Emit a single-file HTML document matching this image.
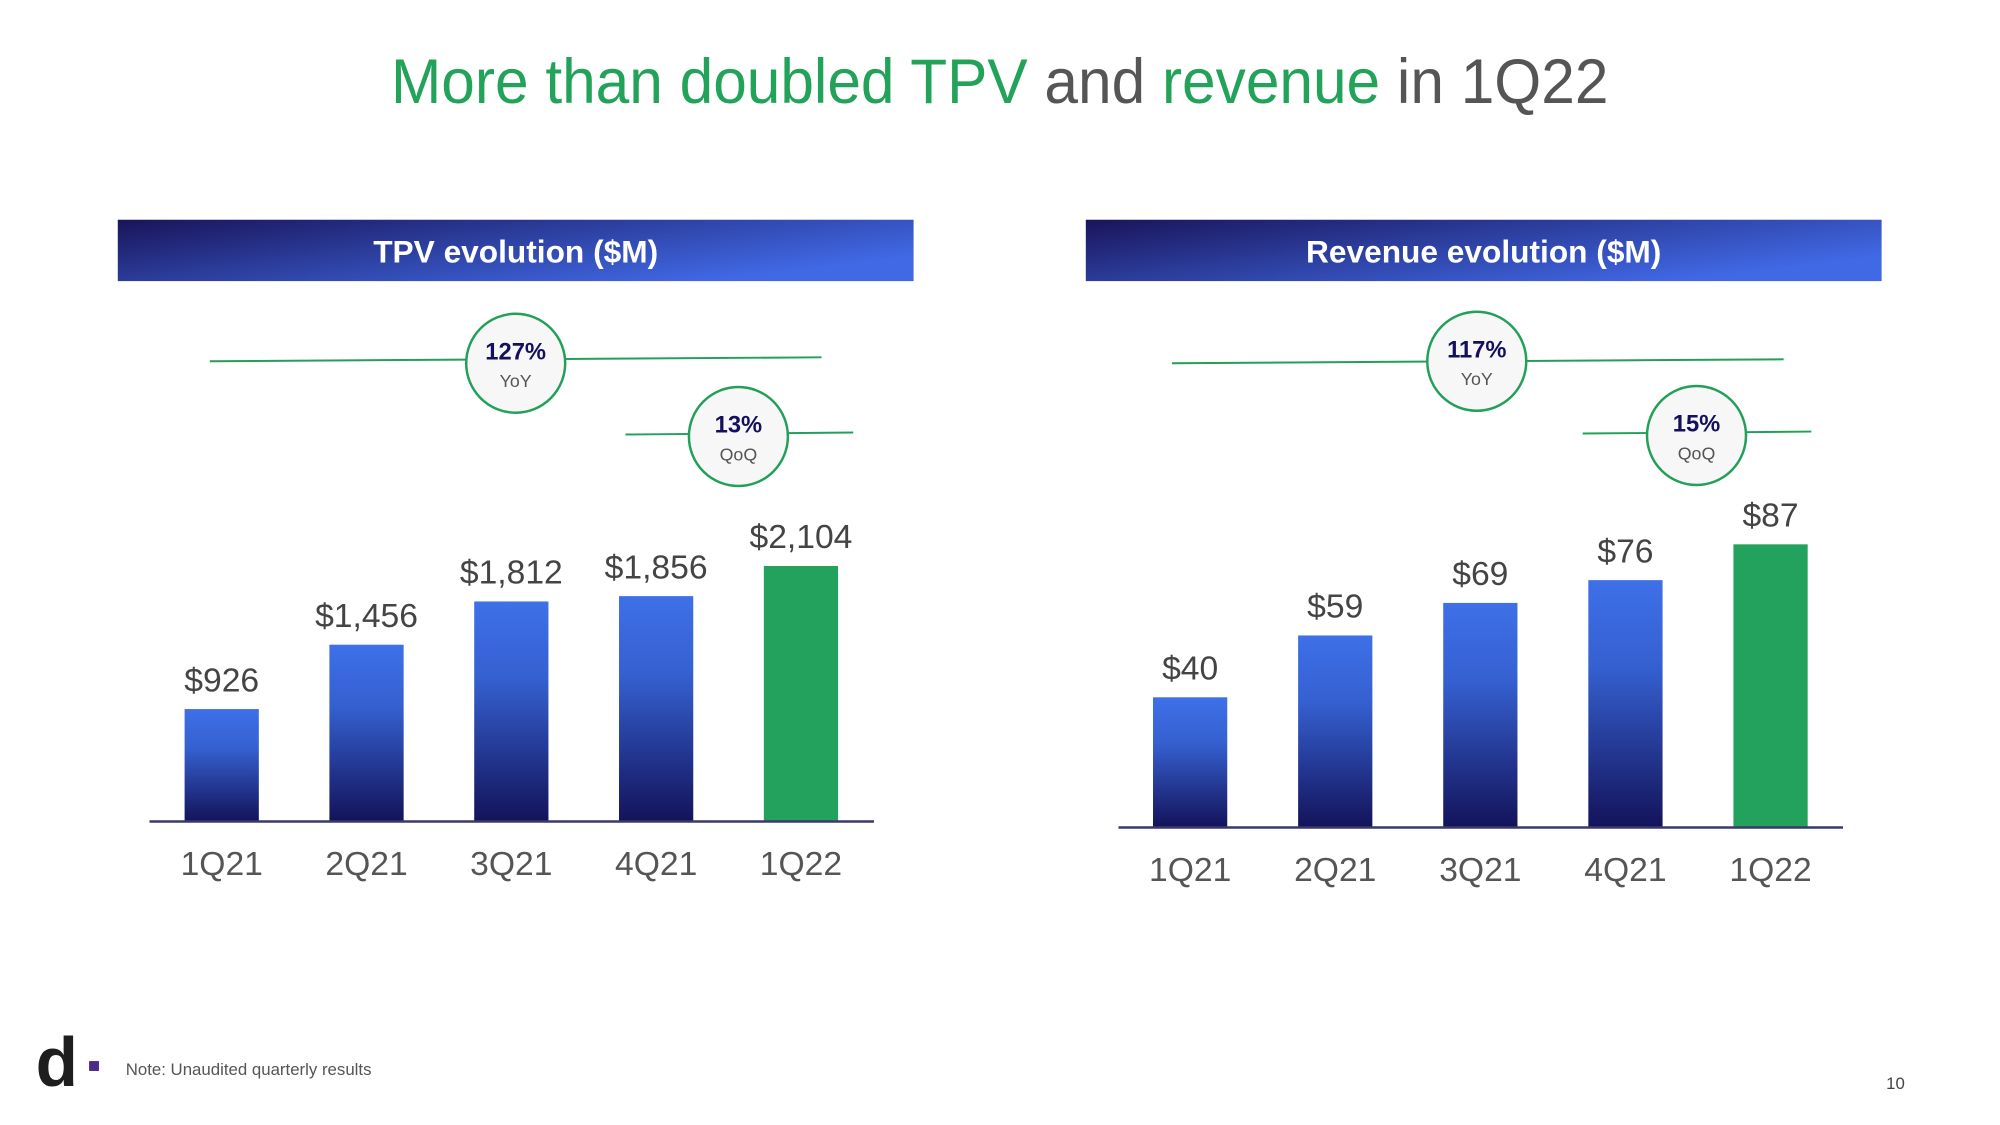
<!DOCTYPE html>
<html><head><meta charset="utf-8"><style>
html,body{margin:0;padding:0;background:#fff;}
svg{display:block;font-family:"Liberation Sans",sans-serif;}
</style></head><body>
<svg id="slide" width="2000" height="1125" viewBox="0 0 2000 1125">
<defs>
<linearGradient id="hdr" x1="0" y1="0" x2="1" y2="0.6"><stop offset="0" stop-color="#1a145a"/><stop offset="0.45" stop-color="#2b3c9a"/><stop offset="1" stop-color="#4169e6"/></linearGradient>
<linearGradient id="barg" x1="0" y1="0" x2="0" y2="1"><stop offset="0" stop-color="#3e70e8"/><stop offset="0.35" stop-color="#3560d0"/><stop offset="1" stop-color="#13135a"/></linearGradient>
</defs>
<g transform="scale(0.9898)">
<text x="1010" y="104" text-anchor="middle" font-size="64" textLength="1230" lengthAdjust="spacingAndGlyphs"><tspan fill="#23a35a">More than doubled TPV</tspan><tspan fill="#555"> and </tspan><tspan fill="#23a35a">revenue</tspan><tspan fill="#555"> in 1Q22</tspan></text>

<rect x="119" y="222" width="804" height="62" fill="url(#hdr)"/>
<text x="521" y="265" text-anchor="middle" fill="#fff" font-size="32" font-weight="bold">TPV evolution ($M)</text>
<rect x="1097" y="222" width="804" height="62" fill="url(#hdr)"/>
<text x="1499" y="265" text-anchor="middle" fill="#fff" font-size="32" font-weight="bold">Revenue evolution ($M)</text>

<g id="tpv-chart"></g>
<g id="rev-chart"></g>

<g>
<line x1="212" y1="365" x2="830" y2="361" stroke="#22a05a" stroke-width="2"/>
<circle cx="521" cy="367" r="50" fill="#f7f7f7" stroke="#22a05a" stroke-width="2.5"/>
<text x="521" y="363" text-anchor="middle" font-size="24" font-weight="bold" fill="#15105e">127%</text>
<text x="521" y="391" text-anchor="middle" font-size="18" fill="#555">YoY</text>
</g>
<g>
<line x1="632" y1="439" x2="862" y2="437" stroke="#22a05a" stroke-width="2"/>
<circle cx="746" cy="441" r="50" fill="#f7f7f7" stroke="#22a05a" stroke-width="2.5"/>
<text x="746" y="437" text-anchor="middle" font-size="24" font-weight="bold" fill="#15105e">13%</text>
<text x="746" y="465" text-anchor="middle" font-size="18" fill="#555">QoQ</text>
</g>
<g>
<line x1="1184" y1="367" x2="1802" y2="363" stroke="#22a05a" stroke-width="2"/>
<circle cx="1492" cy="365" r="50" fill="#f7f7f7" stroke="#22a05a" stroke-width="2.5"/>
<text x="1492" y="361" text-anchor="middle" font-size="24" font-weight="bold" fill="#15105e">117%</text>
<text x="1492" y="389" text-anchor="middle" font-size="18" fill="#555">YoY</text>
</g>
<g>
<line x1="1599" y1="438" x2="1830" y2="436" stroke="#22a05a" stroke-width="2"/>
<circle cx="1714" cy="440" r="50" fill="#f7f7f7" stroke="#22a05a" stroke-width="2.5"/>
<text x="1714" y="436" text-anchor="middle" font-size="24" font-weight="bold" fill="#15105e">15%</text>
<text x="1714" y="464" text-anchor="middle" font-size="18" fill="#555">QoQ</text>
</g>

<text x="36" y="1097" font-size="70" font-weight="bold" fill="#1e1e1e">d</text>
<rect x="90" y="1072" width="10" height="10" fill="#4b2a8c"/>
<text x="127" y="1086" font-size="17" fill="#555">Note: Unaudited quarterly results</text>
<text x="1915" y="1100" text-anchor="middle" font-size="17" fill="#444">10</text>
</g>
</svg>
<script>
const categories = ["1Q21","2Q21","3Q21","4Q21","1Q22"];
const tpvValues = [926, 1456, 1812, 1856, 2104];
const tpvLabels = ["$926","$1,456","$1,812","$1,856","$2,104"];
const revValues = [40, 59, 69, 76, 87];
const revLabels = ["$40","$59","$69","$76","$87"];
const NS = "http://www.w3.org/2000/svg";
function mk(tag, attrs, parent){const e=document.createElementNS(NS,tag);for(const k in attrs)e.setAttribute(k,attrs[k]);parent.appendChild(e);return e;}
function drawChart(gId, vals, labels, opt){
  const g = document.getElementById(gId);
  const x = i => opt.x0 + i*opt.step;
  const y = v => opt.base - v*opt.scale;
  vals.forEach((v,i)=>{
    const r = mk('rect',{x:x(i)-37.5,y:y(v),width:75,height:opt.base-y(v),fill:i===vals.length-1?'#22a25c':'url(#barg)'},g);
    
    
    const t = mk('text',{x:x(i),y:y(v)-18,'text-anchor':'middle','font-size':34,fill:'#444'},g);
    t.textContent = labels[i];
    
    
    const c = mk('text',{x:x(i),y:opt.base+54,'text-anchor':'middle','font-size':34,fill:'#555'},g);
    c.textContent = categories[i];
    
    
  });
  const ax = mk('line',{x1:opt.ax1,x2:opt.ax2,y1:opt.base,y2:opt.base,stroke:'#3a3a6a','stroke-width':2.5},g);
  
  
}
drawChart('tpv-chart', tpvValues, tpvLabels, {x0:224, step:146.3, base:830, scale:0.1227, ax1:151, ax2:883});
drawChart('rev-chart', revValues, revLabels, {x0:1202.4, step:146.6, base:836, scale:3.288, ax1:1130, ax2:1862});
</script>
</body></html>
